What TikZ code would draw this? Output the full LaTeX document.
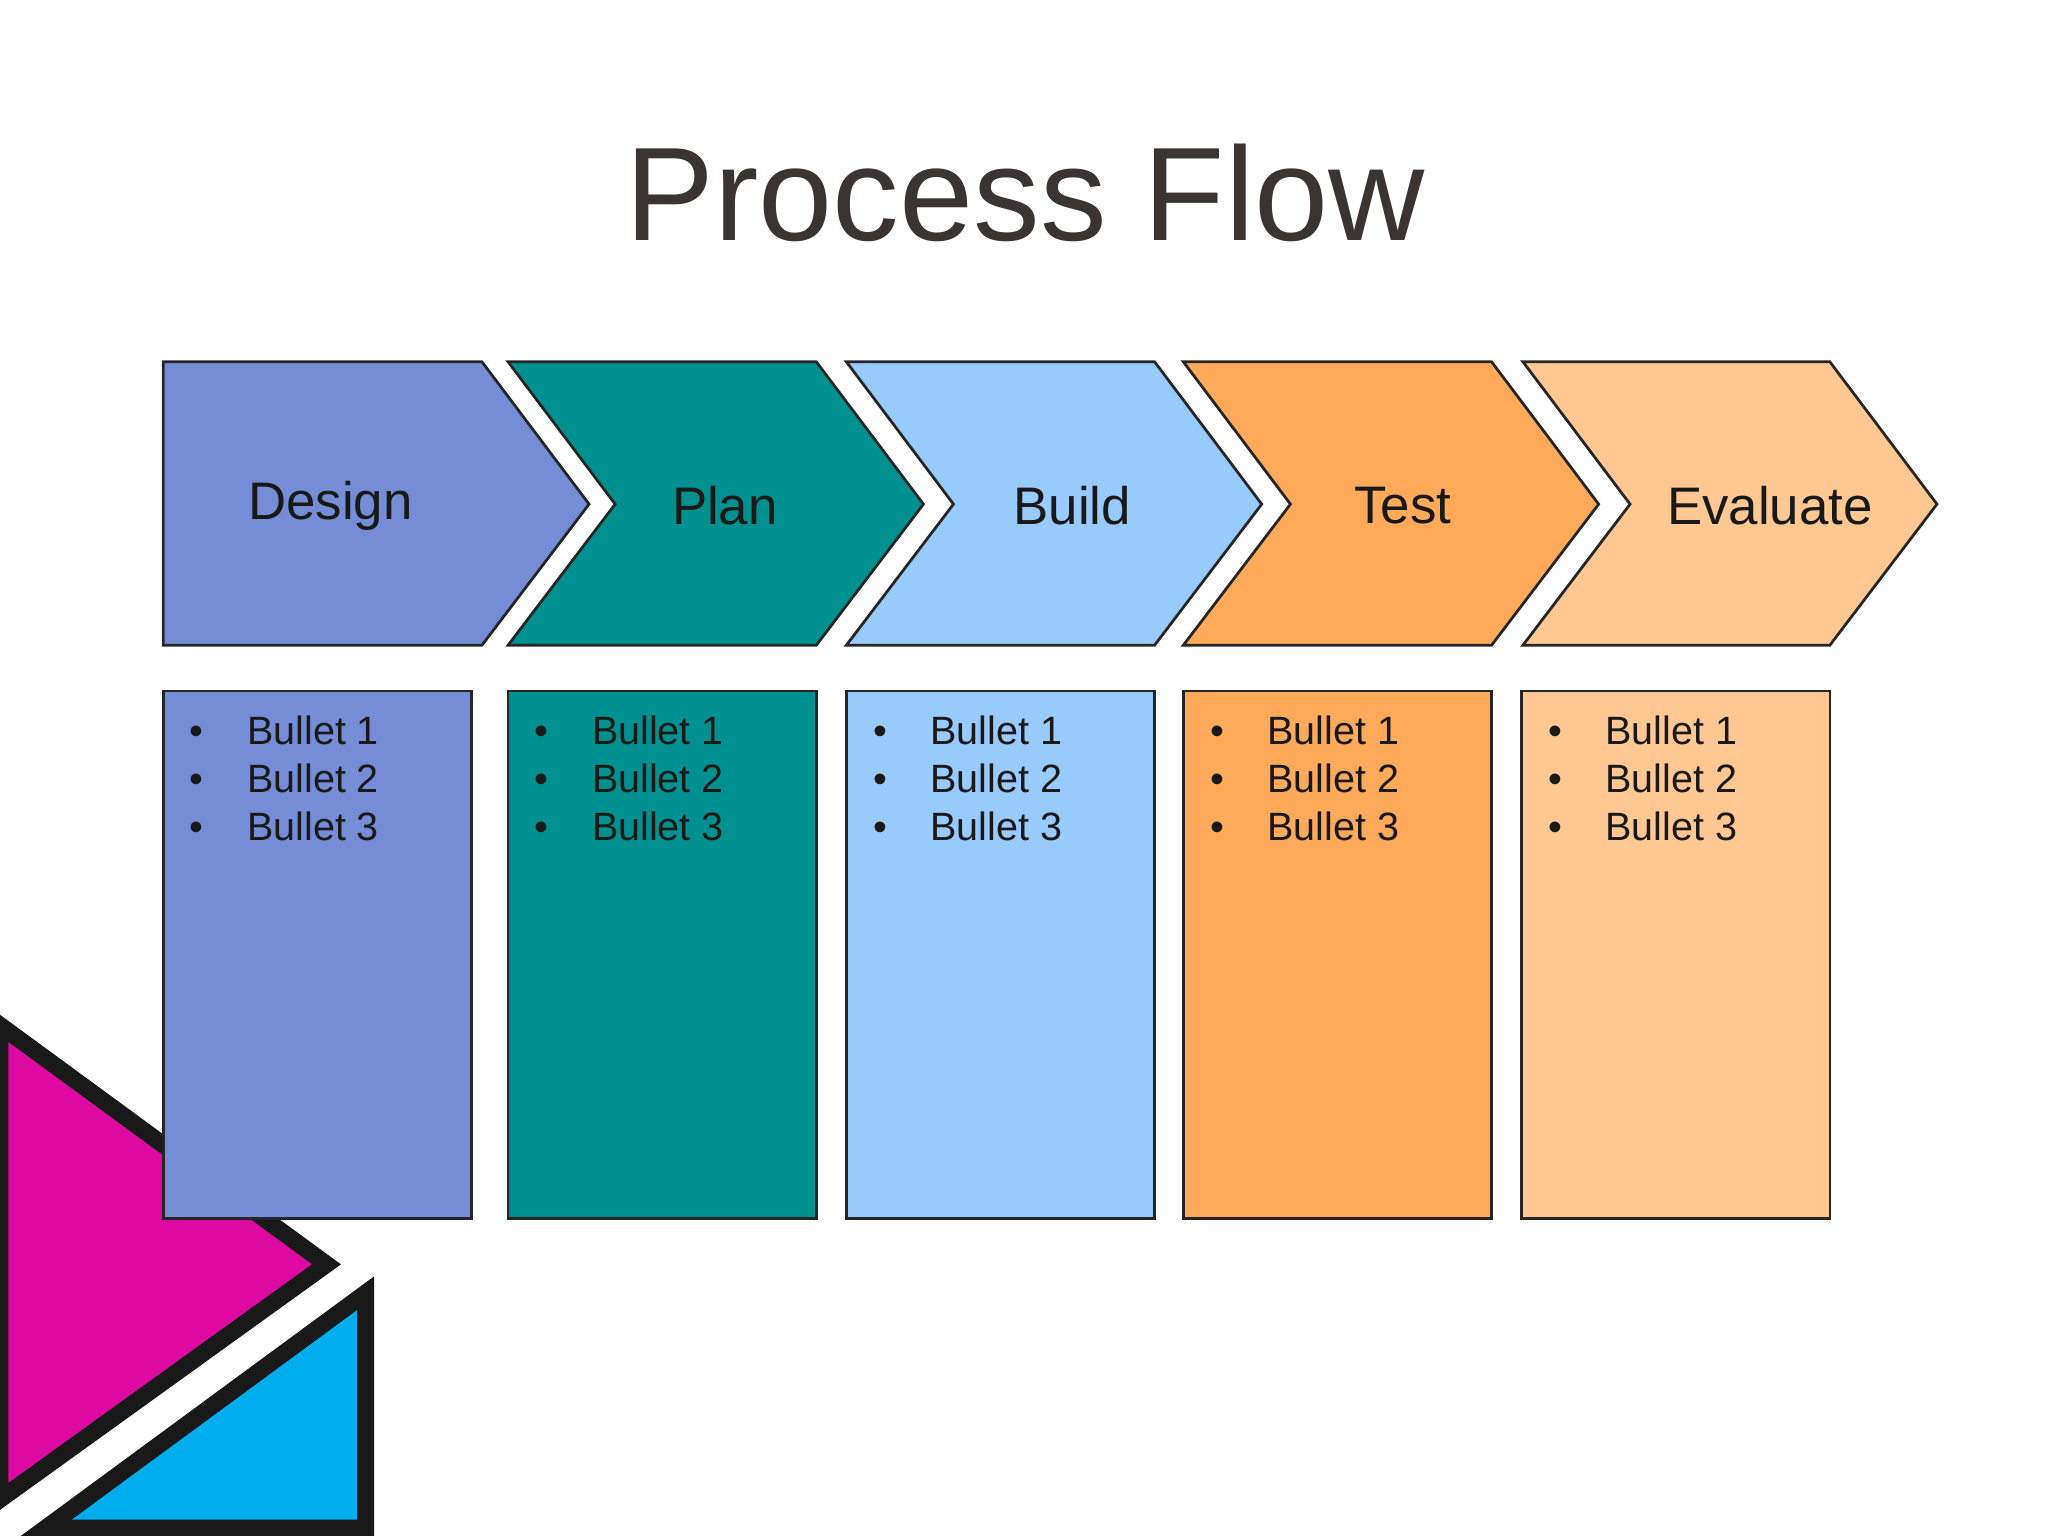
\documentclass[tikz,border=0pt]{standalone}
\usepackage{fontspec}
\setmainfont{Liberation Sans}
\begin{document}
\begin{tikzpicture}[x=0.01cm,y=-0.01cm,
  box/.style={draw=black!85,line width=0.6pt},
  tri/.style={draw=black!90,line width=0.13cm,line join=miter},
  lbl/.style={font=\fontsize{11.5}{13}\selectfont,text=black!90},
  bl/.style={font=\fontsize{8.6}{10.4}\selectfont,text=black!90,anchor=north west,align=left}]
\useasboundingbox (0,0) rectangle (1568,1176);
\definecolor{cA}{HTML}{758CD6}\definecolor{cB}{HTML}{009090}
\definecolor{cC}{HTML}{99CAFC}\definecolor{cD}{HTML}{FFAA5A}
\definecolor{cE}{HTML}{FFC893}
% decorative triangles
\draw[tri,fill={rgb,255:red,221;green,9;blue,160}] (0,785) -- (250,968) -- (0,1148) -- cycle;
\draw[tri,fill={rgb,255:red,0;green,174;blue,239}] (280,990) -- (280,1170) -- (35,1170) -- cycle;
% title
\node[font=\fontsize{29}{34}\selectfont,text={rgb,255:red,58;green,53;blue,50}] (title) at (785,148) {Process Flow};
% chevrons
\draw[box,fill=cA] (125,277) -- (369,277) -- (451,386) -- (369,494) -- (125,494) -- cycle;
\draw[box,fill=cB] (389,277) -- (625,277) -- (707,386) -- (625,494) -- (389,494) -- (471,386) -- cycle;
\draw[box,fill=cC] (648,277) -- (884,277) -- (966,386) -- (884,494) -- (648,494) -- (730,386) -- cycle;
\draw[box,fill=cD] (906,277) -- (1142,277) -- (1224,386) -- (1142,494) -- (906,494) -- (988,386) -- cycle;
\draw[box,fill=cE] (1166,277) -- (1401,277) -- (1483,386) -- (1401,494) -- (1166,494) -- (1248,386) -- cycle;
\node[lbl] (l1) at (253,387) {Design};
\node[lbl] (l2) at (555,387) {Plan};
\node[lbl] (l3) at (821,387) {Build};
\node[lbl] (l4) at (1074,387) {Test};
\node[lbl] (l5) at (1355,387) {Evaluate};
% boxes
\foreach \x/\c/\n in {125/cA/1,389/cB/2,648/cC/3,906/cD/4,1165/cE/5}{
  \draw[box,fill=\c] (\x,529) rectangle ++(236,404);
  \node[bl] (b\n) at (\x+8,536) {\textbullet\hspace{1.1em}Bullet 1\\\textbullet\hspace{1.1em}Bullet 2\\\textbullet\hspace{1.1em}Bullet 3};
}
\end{tikzpicture}
\end{document}
